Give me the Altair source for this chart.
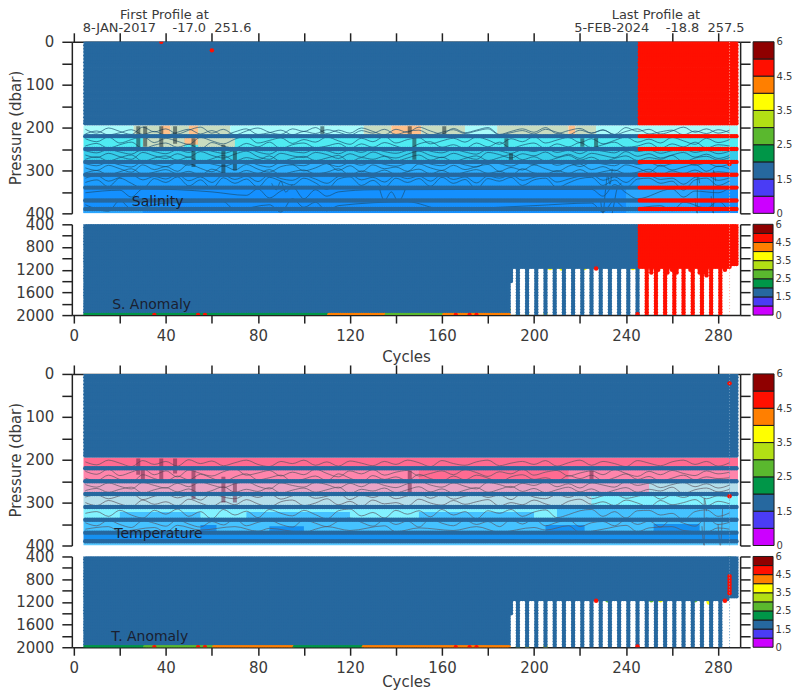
import altair as alt
import pandas as pd

alt.data_transformers.disable_max_rows()

FONT = "DejaVu Sans"
TEXT = "#3a3a3a"
INK = "#222222"

# ---------------- flag colour bar ----------------
flag_colors = ["#CC00FF", "#4A3CF5", "#26689F", "#009648", "#5AB82E",
               "#B2DF14", "#FFFF00", "#FF7F00", "#FF0F00", "#8F0000"]
flag_cells = list(range(10))
cbar_labels = ["0", "1.5", "2.5", "3.5", "4.5", "6"]
STEEL, RED = 2, 8

# ---------------- axes ----------------
x_major = list(range(0, 300, 20))
y_top_ticks = list(range(0, 401, 50))
y_bot_ticks = list(range(400, 2001, 200))
x_domain = [-0.87, 289.6]

# ---------------- cycles and levels ----------------
cycles = list(range(5, 289))
block_levels = list(range(0, 188, 8)) + [190]
row_levels = [220, 250, 280, 310, 340, 370, 390]
mid_levels = list(range(400, 1151, 50))
deep_levels = list(range(1200, 1951, 50))
deep_blue = list(range(193, 246, 4))
deep_red = list(range(249, 282, 4))
sal_first_red = 246

sal_bottom_row = [(5, 110, 3), (111, 135, 7), (136, 160, 4), (161, 189, 7)]
tem_bottom_row = [(5, 30, 3), (31, 60, 4), (61, 95, 7), (96, 125, 3), (126, 189, 7)]
bottom_red = [35, 54, 57, 166, 172, 175]

sal_shallow_exceptions = {251: 1250, 254: 1200, 258: 1250, 260: 1200, 262: 1250, 265: 1200,
                          268: 1200, 272: 1250, 274: 1250, 275: 1300, 283: 1200, 285: 1150,
                          286: 1100, 287: 1100, 288: 1100}
tem_shallow_exceptions = {283: 1150, 284: 1150, 285: 1100, 286: 1100, 287: 1100, 288: 1100}

sal_upper_spots = [(60, 20, RED), (38, 0, RED), (285, 285, RED)]
tem_upper_spots = [(285, 22, RED), (285, 285, RED)]
sal_lower_spots = [(227, 1180, RED), (245, 1985, RED), (191, 1125, 4), (193, 1985, 4),
                   (197, 1985, 6), (205, 1985, 6), (206, 1120, 4), (212, 1100, 5),
                   (207, 1170, 6), (212, 1180, 6), (217, 1170, 6), (222, 1170, 6),
                   (233, 1170, 4), (243, 1170, 6), (187, 1950, 6), (189, 1900, 6)]
tem_lower_spots = [(227, 1180, RED), (245, 1985, RED), (283, 1180, RED), (285, 420, 4),
                   (285, 500, 7), (285, 600, 7), (285, 750, RED), (285, 800, RED),
                   (285, 850, RED), (285, 900, RED), (285, 950, RED), (285, 1000, RED),
                   (285, 1050, RED), (276, 1190, 6), (276, 1210, 6), (270, 1170, 4),
                   (255, 1170, 6), (251, 1170, 4), (232, 1170, 4), (217, 1170, 6),
                   (205, 1985, 6), (197, 1985, 6), (193, 1985, 4), (191, 1125, 4)]

# ---------------- salinity bands: first cycle, last cycle, top, bottom, level ----------------
sal_colors = ["#FFC08A", "#C8DCC0", "#A8FBFA", "#4FEBF2", "#36CDEA", "#2CAEFF",
              "#1C9CFF", "#1490FF", "#2AA6FF"]
sal_bands = [
    (4.2, 26, 195, 220, 2), (26, 38, 195, 220, 1), (38, 42, 195, 220, 0), (42, 50, 195, 220, 1),
    (50, 54, 195, 220, 0), (54, 68, 195, 220, 1), (68, 126, 195, 220, 2), (126, 138, 195, 220, 1),
    (138, 151, 195, 220, 0), (151, 170, 195, 220, 1), (170, 184, 195, 220, 2), (184, 215, 195, 220, 1),
    (215, 218, 195, 220, 0), (218, 227, 195, 220, 1), (227, 288.7, 195, 220, 2),
    (4.2, 288.7, 220, 250, 3), (30, 48, 222, 248, 1), (48, 54, 222, 240, 0), (54, 70, 222, 248, 1),
    (4.2, 288.7, 250, 280, 4), (4.2, 288.7, 280, 310, 5), (4.2, 288.7, 310, 340, 6), (246, 288.7, 310, 340, 8),
    (4.2, 288.7, 340, 400, 7), (240, 272, 340, 400, 8), (4.2, 30, 390, 400, 8),
]

# ---------------- temperature bands ----------------
tem_colors = ["#FF6B91", "#FF85AB", "#E8A4C6", "#B4DEEA", "#82F2FF", "#45C2FF",
              "#1690F0", "#58C8FF"]
tem_bands = [
    (4.2, 288.7, 195, 220, 0), (4.2, 288.7, 220, 250, 1), (150, 215, 220, 250, 0), (4.2, 288.7, 250, 280, 2),
    (250, 288.7, 250, 280, 3), (4.2, 288.7, 280, 310, 3), (225, 288.7, 280, 310, 4), (4.2, 288.7, 310, 340, 4),
    (20, 55, 322, 340, 5), (75, 120, 322, 340, 5), (150, 200, 322, 340, 5), (210, 288.7, 310, 340, 5),
    (4.2, 288.7, 340, 370, 5), (55, 62, 352, 370, 6), (85, 100, 355, 370, 6), (205, 222, 352, 370, 6),
    (252, 272, 350, 370, 6), (4.2, 288.7, 370, 390, 6), (4.2, 288.7, 390, 400, 7),
]

# ---------------- contour lines, pressure at each contour_cycles entry ----------------
contour_cycles = list(range(5, 290, 5))
sal_contours = [
    [204,213,201,209,216,199,210,203,215,206,199,213,204,217,208,201,211,216,203,209,200,214,206,213,201,209,217,204,211,199,208,215,202,212,206,200,216,209,203,211,200,214,207,202,213,206,216,200,209,204,215,208,199,211,203,213,206],
    [215,208,217,212,205,216,209,218,211,204,215,207,218,210,203,216,212,206,217,209,214,205,211,218,207,213,204,216,209,206,217,211,205,214,208,203,217,212,207,215,204,211,217,206,213,205,217,209,203,215,210,206,217,208,214,205,212],
    [226,233,222,236,228,221,235,225,232,239,223,231,238,227,220,236,230,224,237,228,234,222,231,239,225,233,221,236,228,224,238,231,225,234,222,229,239,226,233,221,236,229,223,235,226,238,230,222,234,227,236,223,231,239,225,235,228],
    [243,237,248,240,234,249,241,236,246,239,250,235,243,248,237,245,234,249,240,236,247,243,237,249,238,246,235,243,250,238,233,246,240,249,236,245,234,248,241,236,249,238,245,235,247,240,234,246,243,236,249,238,245,234,248,240,243],
    [254,259,251,257,262,250,256,261,252,258,249,255,260,253,248,257,262,251,256,259,250,254,261,252,258,249,256,260,253,247,255,259,251,257,262,250,254,260,252,256,249,258,253,261,251,255,259,248,256,252,260,254,250,258,253,261,255],
    [264,270,260,268,274,258,266,272,261,269,256,265,271,262,255,268,274,260,266,270,258,263,272,261,269,257,266,271,262,255,265,270,260,268,274,258,263,271,261,266,257,269,262,272,260,265,270,256,267,261,271,264,258,269,262,272,265],
    [274,268,278,270,264,279,271,266,276,269,280,273,265,278,270,275,266,279,272,267,277,271,265,280,270,274,267,278,271,264,276,269,279,272,266,277,270,263,275,268,278,271,265,276,269,279,272,266,277,270,274,265,280,271,267,276,270],
    [284,289,281,287,292,280,286,291,282,288,279,285,290,283,278,287,292,281,286,289,280,284,291,282,288,279,286,290,283,277,285,289,281,287,292,280,284,290,282,286,279,288,283,291,281,285,289,278,286,282,290,284,280,288,283,291,285],
    [294,300,288,296,304,287,298,291,302,285,295,303,289,299,286,297,304,291,287,301,294,284,300,289,303,287,296,292,302,285,294,300,288,298,291,286,302,293,299,287,296,303,290,285,298,291,301,287,294,304,288,299,292,286,302,290,296],
    [306,300,310,303,296,309,304,298,308,302,311,297,306,309,300,307,298,310,303,299,308,304,296,311,301,307,299,309,303,297,308,300,310,304,298,307,302,311,296,306,309,300,307,298,309,303,299,308,304,297,310,301,307,299,309,303,306],
    [318,312,325,316,310,322,314,320,309,324,315,328,311,321,313,326,310,319,323,312,320,330,314,309,322,316,327,312,319,313,325,310,321,315,329,313,318,310,323,316,312,327,320,313,310,323,315,328,313,312,321,318,332,316,312,323,317],
    [328,322,338,318,330,342,319,328,315,336,322,342,317,330,320,339,316,325,334,318,329,344,320,315,335,323,340,318,328,319,337,316,330,321,343,319,325,316,335,322,318,340,329,319,316,335,322,341,320,318,330,325,346,322,318,335,324],
    [352,None,None,346,362,343,None,None,None,None,None,350,None,None,358,343,364,348,338,366,345,360,350,None,None,345,None,None,None,None,None,None,None,None,None,None,None,None,None,None,None,None,None,None,344,360,333,352,366,None,None,343,362,348,None,352,340],
    [380,None,395,370,390,None,None,376,None,None,None,None,373,392,None,None,380,397,366,386,374,394,382,None,None,None,None,None,373,None,None,390,None,None,None,None,None,None,None,382,None,None,None,None,376,397,370,390,None,None,382,394,374,None,388,372,397],
]
tem_contours = [
    [205,212,201,208,216,202,211,204,215,200,209,203,214,207,201,211,216,204,209,201,213,205,215,203,208,214,204,211,201,207,216,202,209,213,205,201,214,208,204,211,202,215,207,201,213,204,209,216,202,208,214,205,201,211,204,215,207],
    [227,234,222,237,229,221,235,226,240,224,232,238,228,221,236,231,225,238,229,235,222,232,240,226,233,223,236,229,225,238,232,226,235,223,230,239,228,233,222,236,229,225,238,231,226,235,223,232,239,227,235,225,232,237,226,233,229],
    [243,249,236,246,253,235,244,250,238,247,234,243,252,240,233,247,242,236,251,245,238,249,233,243,252,237,246,240,249,234,244,250,238,247,236,243,252,240,235,246,242,250,237,244,236,249,242,233,246,239,250,243,236,247,240,244,242],
    [258,264,254,262,268,253,260,266,255,263,252,259,265,256,251,262,268,254,260,264,253,258,266,255,263,252,260,265,256,250,259,264,254,262,268,253,258,265,255,260,252,263,256,266,254,259,264,251,260,255,265,258,253,263,256,266,259],
    [272,267,276,269,264,278,270,265,275,268,279,272,263,276,269,274,265,278,271,266,276,270,264,279,269,273,266,277,270,263,275,268,278,271,265,276,269,262,274,267,277,270,264,275,268,278,271,265,276,269,273,264,279,270,266,275,269],
    [287,282,291,284,278,293,285,280,289,283,294,279,287,291,281,288,279,292,284,280,290,285,278,293,282,288,280,291,284,279,290,281,292,285,280,288,282,293,278,287,291,281,288,279,291,284,280,290,285,279,292,282,288,280,291,284,287],
    [300,307,295,303,310,294,304,298,308,292,301,309,297,305,293,303,310,298,294,307,301,291,305,297,309,294,303,300,308,292,301,306,295,304,298,293,308,300,305,294,303,309,297,292,304,298,307,294,301,310,295,305,300,293,308,297,303],
    [325,321,332,318,329,336,318,327,315,332,321,338,316,329,320,335,316,325,331,318,328,338,319,315,331,323,336,318,327,319,333,316,329,321,338,319,325,316,332,322,317,335,328,319,316,332,321,336,319,318,329,325,340,321,317,332,324],
    [347,354,341,351,358,342,348,355,340,350,357,344,352,338,354,346,341,351,357,340,348,356,343,336,346,355,340,351,343,357,338,348,354,341,351,344,356,340,350,338,354,346,340,356,347,344,354,340,351,343,357,338,348,355,336,351,346],
    [362,None,356,367,None,None,358,369,353,None,364,None,None,356,None,367,360,None,None,370,362,356,None,365,None,None,354,368,None,359,None,None,365,None,356,None,369,None,None,358,364,None,354,370,None,362,None,353,368,359,None,356,365,None,369,359,362],
]
sal_loops = [
    [(230, 400), (229, 372), (231, 350), (233, 332), (232, 312), (234, 296)],
    [(234, 400), (235, 372), (236, 345), (238, 330)],
    [(271, 400), (270, 365), (272, 330), (271, 305)],
    [(278, 400), (277, 360), (279, 325), (278, 300)],
    [(86, 330), (88, 345), (90, 325), (92, 350), (95, 332)],
    [(133, 345), (135, 370), (138, 350), (141, 372), (144, 345)],
]
tem_loops = [[(274, 400), (273, 355), (275, 320), (274, 290)], [(281, 400), (280, 350), (282, 310)]]

# dense contour clusters: cycle, top, bottom
sal_dense = [(28, 197, 255), (31, 197, 245), (38, 197, 250), (44, 197, 238), (52, 225, 292),
             (65, 240, 310), (70, 250, 300), (108, 197, 216), (146, 197, 216), (148, 225, 275),
             (161, 197, 216), (188, 225, 250), (227, 224, 248), (221, 225, 245), (190, 260, 280)]
tem_dense = [(28, 197, 235), (30, 215, 250), (38, 197, 250), (44, 197, 232), (52, 225, 292),
             (65, 240, 300), (70, 250, 300), (146, 225, 275), (225, 225, 248)]

# ---------------- labels ----------------
first_lines = ["First Profile at", "8-JAN-2017\u00a0\u00a0\u00a0\u00a0-17.0\u00a0\u00a0251.6"]
last_lines = ["Last Profile at", "5-FEB-2024\u00a0\u00a0\u00a0\u00a0-18.8\u00a0\u00a0257.5"]
header_cycles = [39.4, 40.5, 253, 254.5]


def scale_x():
    return alt.Scale(domain=x_domain, nice=False, zero=False)


def scale_y(dom):
    return alt.Scale(domain=dom, nice=False, zero=False)


def axis_style(**kw):
    return alt.Axis(grid=False, domainColor=INK, domainWidth=1.5, tickColor=INK, tickWidth=1.5,
                    labelFont=FONT, labelFontSize=15, labelColor=TEXT, format="d", minExtent=0,
                    labelOverlap=False, labelFlush=False, titleFont=FONT, titleFontSize=15,
                    titleColor=TEXT, titleFontWeight="normal", **kw)


def points_frame(rows):
    df = pd.DataFrame(rows, columns=["c", "p", "f"])
    df["o"] = [
        (1 if f == STEEL else 3) if p == 2000 else (1 if f == STEEL else (2 if f == RED else 0))
        for p, f in zip(df["p"], df["f"])
    ]
    return df


def upper_points(red_from, spots):
    rows = []
    for p in block_levels + row_levels:
        for c in cycles:
            rows.append((c, p, RED if red_from and c >= red_from else STEEL))
    return points_frame(rows + spots)


def lower_points(red_from, exceptions, bottom, spots):
    rows = []
    for c in cycles:
        f = RED if red_from and c >= red_from else STEEL
        deepest = exceptions.get(c, 1150)
        if c <= 189:
            deepest = 1950
        elif c == 190:
            deepest = 1400
        elif c in deep_blue or c in deep_red:
            deepest = 1950
        for p in mid_levels + deep_levels:
            if p <= deepest:
                rows.append((c, p, f))
    for lo, hi, f in bottom:
        for c in range(lo, hi + 1):
            rows.append((c, 2000, f))
    for c in deep_blue:
        rows.append((c, 2000, STEEL))
    for c in deep_red:
        rows.append((c, 2000, RED if red_from else STEEL))
    for c in bottom_red:
        rows.append((c, 2000, RED))
    return points_frame(rows + spots)


def flag_layer(df, dom):
    return alt.Chart(df).mark_point(filled=True, size=20, opacity=1, clip=True).encode(
        x=alt.X("c:Q", scale=scale_x(), axis=None),
        y=alt.Y("p:Q", scale=scale_y(dom), axis=None),
        color=alt.Color("f:Q", scale=alt.Scale(domain=flag_cells, range=flag_colors, type="ordinal"), legend=None),
        order=alt.Order("o:Q"),
    )


TITLE_PAD = 2


def frame_layers(dom, ticks, every, has_top, has_bottom, ytitle, cycles_pad=7):
    one = pd.DataFrame({"c": [0], "p": [dom[1]]})
    expr = f"datum.value % {every} == 0 ? datum.label : ''"
    xexpr = "datum.value % 40 == 0 ? datum.label : ''"
    left = alt.Chart(one).mark_point(opacity=0).encode(
        x=alt.X("c:Q", scale=scale_x(),
                axis=axis_style(orient="bottom", values=x_major, labelExpr=xexpr, title="Cycles",
                                tickSize=8, labelPadding=5, titlePadding=cycles_pad) if has_bottom else None),
        y=alt.Y("p:Q", scale=scale_y(dom),
                axis=axis_style(orient="left", values=ticks, labelExpr=expr, labelPadding=8, tickSize=10,
                                title=ytitle, titlePadding=TITLE_PAD) if ytitle
                else axis_style(orient="left", values=ticks, labelExpr=expr, labelPadding=8, tickSize=10, title=None)),
    )
    right = alt.Chart(one).mark_point(opacity=0).encode(
        x=alt.X("c:Q", scale=scale_x(),
                axis=axis_style(orient="top", values=x_major, labels=False, tickSize=9, title=None) if has_top else None),
        y=alt.Y("p:Q", scale=scale_y(dom),
                axis=axis_style(orient="right", values=ticks, labels=False, tickSize=10, title=None)),
    )
    return [left, right]


def band_layer(bands, colors, dom):
    df = pd.DataFrame(bands, columns=["c0", "c1", "p0", "p1", "lev"]).reset_index()
    return alt.Chart(df).mark_rect(clip=True).encode(
        x=alt.X("c0:Q", scale=scale_x(), axis=None), x2="c1:Q",
        y=alt.Y("p0:Q", scale=scale_y(dom), axis=None), y2="p1:Q",
        color=alt.Color("lev:N", scale=alt.Scale(domain=list(range(len(colors))), range=colors), legend=None),
        order="index:Q",
    )


def contour_layer(lines, loops, dom, color, op):
    rows = []
    for i, vals in enumerate(lines):
        for c, p in zip(contour_cycles, vals):
            if p is not None:
                rows.append((f"l{i}", c, p))
    for i, loop in enumerate(loops):
        for c, p in loop:
            rows.append((f"m{i}", c, p))
    df = pd.DataFrame(rows, columns=["id", "c", "p"])
    return alt.Chart(df).mark_line(clip=True, color=color, strokeWidth=0.8, opacity=op, interpolate="monotone").encode(
        x=alt.X("c:Q", scale=scale_x(), axis=None),
        y=alt.Y("p:Q", scale=scale_y(dom), axis=None),
        detail="id:N",
    )


def dense_layer(dense, dom, color):
    df = pd.DataFrame(dense, columns=["c", "p0", "p1"])
    return alt.Chart(df).mark_rule(clip=True, color=color, strokeWidth=4, opacity=0.55).encode(
        x=alt.X("c:Q", scale=scale_x(), axis=None),
        y=alt.Y("p0:Q", scale=scale_y(dom), axis=None), y2="p1:Q",
    )


def faint_column(dom, color):
    df = pd.DataFrame({"c": [285], "p0": [dom[1]], "p1": [dom[0]]})
    return alt.Chart(df).mark_rule(clip=True, color=color, strokeWidth=1, strokeDash=[1, 2]).encode(
        x=alt.X("c:Q", scale=scale_x(), axis=None),
        y=alt.Y("p0:Q", scale=scale_y(dom), axis=None), y2="p1:Q",
    )


def label_layer(txt, c, p, dom):
    df = pd.DataFrame({"t": [txt], "c": [c], "p": [p]})
    return alt.Chart(df).mark_text(font=FONT, fontSize=14, color="#1a2030").encode(
        x=alt.X("c:Q", scale=scale_x(), axis=None),
        y=alt.Y("p:Q", scale=scale_y(dom), axis=None),
        text="t:N",
    )


def header_layer():
    df = pd.DataFrame({"t": first_lines + last_lines, "c": header_cycles, "row": ["a", "b", "a", "b"]})
    return alt.Chart(df).mark_text(font=FONT, fontSize=13, color=TEXT, clip=False).encode(
        x=alt.X("c:Q", scale=scale_x(), axis=None),
        y=alt.Y("row:N", scale=alt.Scale(domain=["a", "b"], range=[-27, -14], padding=0), axis=None),
        text="t:N",
    )


def combine(layers, w, h):
    return alt.layer(*layers).resolve_scale(x="independent", y="independent", color="independent").properties(width=w, height=h)


def colorbar(w, h):
    df = pd.DataFrame({"cell": flag_cells, "next": [c + 1 for c in flag_cells]})
    return alt.Chart(df).mark_rect(stroke="#1a1a1a", strokeWidth=1).encode(
        x=alt.value(0), x2=alt.value(w),
        y=alt.Y("cell:Q", scale=alt.Scale(domain=[0, 10], nice=False, zero=False),
                axis=alt.Axis(orient="right", values=[0, 2, 4, 6, 8, 10], ticks=False, domain=False,
                              grid=False, title=None, labelFont=FONT, labelFontSize=10, labelColor=TEXT,
                              labelPadding=2, labelOverlap=False, labelFlush=False, minExtent=0,
                              labelExpr=f"{cbar_labels}[datum.value / 2]")),
        y2="next:Q",
        color=alt.Color("cell:Q", scale=alt.Scale(domain=flag_cells, range=flag_colors, type="ordinal"), legend=None),
    ).properties(width=w, height=h)


W, HT, HB = 670, 172, 91
D_U, D_L = [400, 0], [2000, 400]

panel1 = combine(
    [band_layer(sal_bands, sal_colors, D_U),
     contour_layer(sal_contours, sal_loops, D_U, "#1B4F70", 0.85),
     dense_layer(sal_dense, D_U, "#1a2a30"),
     flag_layer(upper_points(sal_first_red, sal_upper_spots), D_U),
     faint_column(D_U, "#FFB0A0"),
     label_layer("Salinity", 36.4, 374, D_U),
     header_layer()] + frame_layers(D_U, y_top_ticks, 100, True, False, "Pressure (dbar)"),
    W, HT)
panel2 = combine(
    [flag_layer(lower_points(sal_first_red, sal_shallow_exceptions, sal_bottom_row, sal_lower_spots), D_L),
     faint_column(D_L, "#FFB0A0"),
     label_layer("S. Anomaly", 33.8, 1829, D_L)] + frame_layers(D_L, y_bot_ticks, 400, False, True, None),
    W, HB)
panel3 = combine(
    [band_layer(tem_bands, tem_colors, D_U),
     contour_layer(tem_contours, tem_loops, D_U, "#5A5560", 0.85),
     dense_layer(tem_dense, D_U, "#6A2A48"),
     flag_layer(upper_points(None, tem_upper_spots), D_U),
     faint_column(D_U, "#6C9CC4"),
     label_layer("Temperature", 36.8, 374, D_U)] + frame_layers(D_U, y_top_ticks, 100, True, False, "Pressure (dbar)"),
    W, HT)
panel4 = combine(
    [flag_layer(lower_points(None, tem_shallow_exceptions, tem_bottom_row, tem_lower_spots), D_L),
     faint_column(D_L, "#6C9CC4"),
     label_layer("T. Anomaly", 33, 1824, D_L)] + frame_layers(D_L, y_bot_ticks, 400, False, True, None, cycles_pad=-1),
    W, HB)

spacer = alt.Chart(pd.DataFrame({"t": [""]})).mark_text().encode(text="t:N").properties(width=10, height=37)

chart = alt.concat(
    panel1, colorbar(21, HT),
    panel2, colorbar(20, HB),
    spacer, spacer,
    panel3, colorbar(21, HT),
    panel4, colorbar(20, HB),
    columns=2, spacing=alt.RowColnumber(row=11, column=13), bounds="flush", align="each",
    padding={"left": 0, "right": 0, "top": 0, "bottom": 0},
).configure_view(strokeWidth=0).configure_axis(labelFontWeight="normal")

chart.save("out.html", embed_options={"renderer": "svg", "actions": False})
